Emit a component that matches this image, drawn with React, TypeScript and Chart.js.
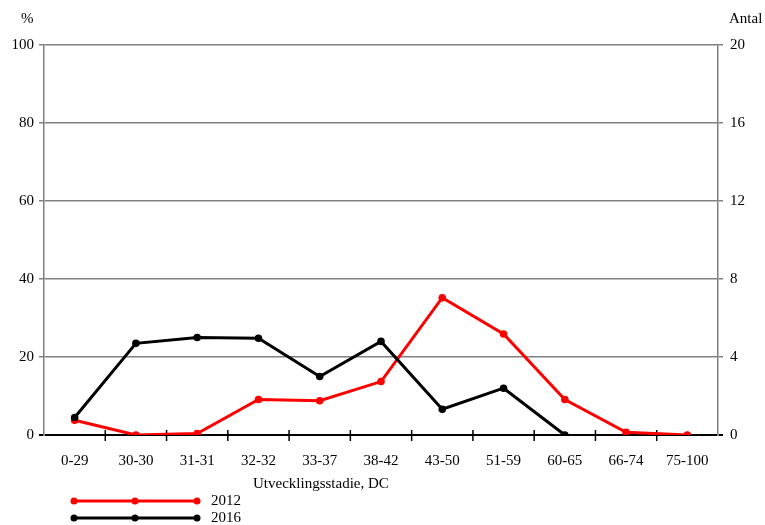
import React, { useEffect, useRef } from "react";
import { Chart, registerables } from "chart.js";

Chart.register(...registerables);

const categories = ["0-29", "30-30", "31-31", "32-32", "33-37", "38-42", "43-50", "51-59", "60-65", "66-74", "75-100"];
const series2012 = [3.8, 0, 0.4, 9.1, 8.8, 13.7, 35.2, 25.9, 9.1, 0.7, 0];
const series2016: (number | null)[] = [4.5, 23.5, 25.0, 24.8, 15.0, 24.0, 6.6, 12.0, 0, null, null];
const leftTicks = [0, 20, 40, 60, 80, 100];
const rightTicks = [0, 4, 8, 12, 16, 20];
const xTitle = "Utvecklingsstadie, DC";
const leftTitle = "%";
const rightTitle = "Antal";
const seriesLabels = ["2012", "2016"];
const seriesColors = ["#ff0000", "#000000"];

const FONT = "'Liberation Serif', 'Times New Roman', serif";

const annotations = {
  id: "annotations",
  beforeDatasetsDraw(chart: any) {
    const ctx = chart.ctx as CanvasRenderingContext2D;
    const xs = chart.scales.x;
    const yb = chart.chartArea.bottom;
    ctx.save();
    ctx.strokeStyle = "#000";
    ctx.lineWidth = 1.5;
    for (let i = 1; i < categories.length; i++) {
      const px = (xs.getPixelForValue(i - 1) + xs.getPixelForValue(i)) / 2;
      ctx.beginPath();
      ctx.moveTo(px, yb - 5);
      ctx.lineTo(px, yb + 6);
      ctx.stroke();
    }
    ctx.restore();
  },
  afterDraw(chart: any) {
    const ctx = chart.ctx as CanvasRenderingContext2D;
    ctx.save();
    ctx.font = `15px ${FONT}`;
    ctx.fillStyle = "#000";
    ctx.textBaseline = "middle";
    ctx.textAlign = "left";
    ctx.fillText(leftTitle, 21, 19);
    ctx.fillText(rightTitle, 729, 19);
    ctx.fillText(xTitle, 253, 484);
    // legend
    const rows = [501, 518];
    for (let i = 0; i < seriesLabels.length; i++) {
      const y = rows[i];
      ctx.strokeStyle = seriesColors[i];
      ctx.fillStyle = seriesColors[i];
      ctx.lineWidth = 3;
      ctx.beginPath();
      ctx.moveTo(74, y);
      ctx.lineTo(197, y);
      ctx.stroke();
      for (const px of [74, 135, 197]) {
        ctx.beginPath();
        ctx.arc(px, y, 3.5, 0, Math.PI * 2);
        ctx.fill();
      }
      ctx.fillStyle = "#000";
      ctx.fillText(seriesLabels[i], 211, y);
    }
    ctx.restore();
  },
};

export default function App() {
  const ref = useRef<HTMLCanvasElement>(null);
  useEffect(() => {
    document.body.style.margin = "0";
    const c = new Chart(ref.current!, {
      type: "line",
      data: {
        labels: categories,
        datasets: [
          {
            label: seriesLabels[0],
            data: series2012,
            borderColor: seriesColors[0],
            backgroundColor: seriesColors[0],
            borderWidth: 3,
            pointRadius: 3.8,
            pointBorderWidth: 0,
            tension: 0,
            order: 1,
            yAxisID: "y",
          },
          {
            label: seriesLabels[1],
            data: series2016,
            borderColor: seriesColors[1],
            backgroundColor: seriesColors[1],
            borderWidth: 3,
            pointRadius: 3.8,
            pointBorderWidth: 0,
            tension: 0,
            order: 0,
            spanGaps: false,
            yAxisID: "y",
          },
        ],
      },
      options: {
        animation: false,
        responsive: false,
        devicePixelRatio: 1,
        layout: { padding: { top: 45, left: 0, right: 0, bottom: 0 } },
        plugins: { legend: { display: false }, tooltip: { enabled: false } },
        scales: {
          x: {
            type: "category",
            offset: true,
            afterFit: (s: any) => {
              s.height = 90;
            },
            grid: {
              offset: true,
              display: false,
              drawOnChartArea: false,
              drawTicks: false,
              tickLength: 6,
            },
            border: { display: false },
            ticks: {
              color: "#000",
              font: { family: FONT, size: 15 },
              padding: 17,
              maxRotation: 0,
              autoSkip: false,
            },
          },
          y: {
            position: "left",
            min: 0,
            max: 100,
            afterFit: (s: any) => {
              s.width = 44;
            },
            afterBuildTicks: (s: any) => {
              s.ticks = leftTicks.map((v) => ({ value: v }));
            },
            grid: {
              color: (ctx: any) => (ctx.tick && ctx.tick.value === 0 ? "#000" : "#808080"),
              lineWidth: (ctx: any) => (ctx.tick && ctx.tick.value === 0 ? 2 : 1.5),
              tickLength: 5,
              drawTicks: true,
            },
            border: { color: "#808080", width: 1.5 },
            ticks: {
              color: "#000",
              font: { family: FONT, size: 15 },
              padding: 5,
            },
          },
          y1: {
            position: "right",
            display: true,
            min: 0,
            max: 20,
            afterFit: (s: any) => {
              s.width = 47;
            },
            afterBuildTicks: (s: any) => {
              s.ticks = rightTicks.map((v) => ({ value: v }));
            },
            grid: {
              drawOnChartArea: false,
              color: (ctx: any) => (ctx.tick && ctx.tick.value === 0 ? "#000" : "#808080"),
              lineWidth: (ctx: any) => (ctx.tick && ctx.tick.value === 0 ? 2 : 1.5),
              tickLength: 5,
            },
            border: { color: "#808080", width: 1.5 },
            ticks: {
              color: "#000",
              font: { family: FONT, size: 15 },
              padding: 7,
            },
          },
        },
      },
      plugins: [annotations],
    });
    return () => c.destroy();
  }, []);
  return <canvas ref={ref} width={765} height={525} style={{ display: "block" }} />;
}
